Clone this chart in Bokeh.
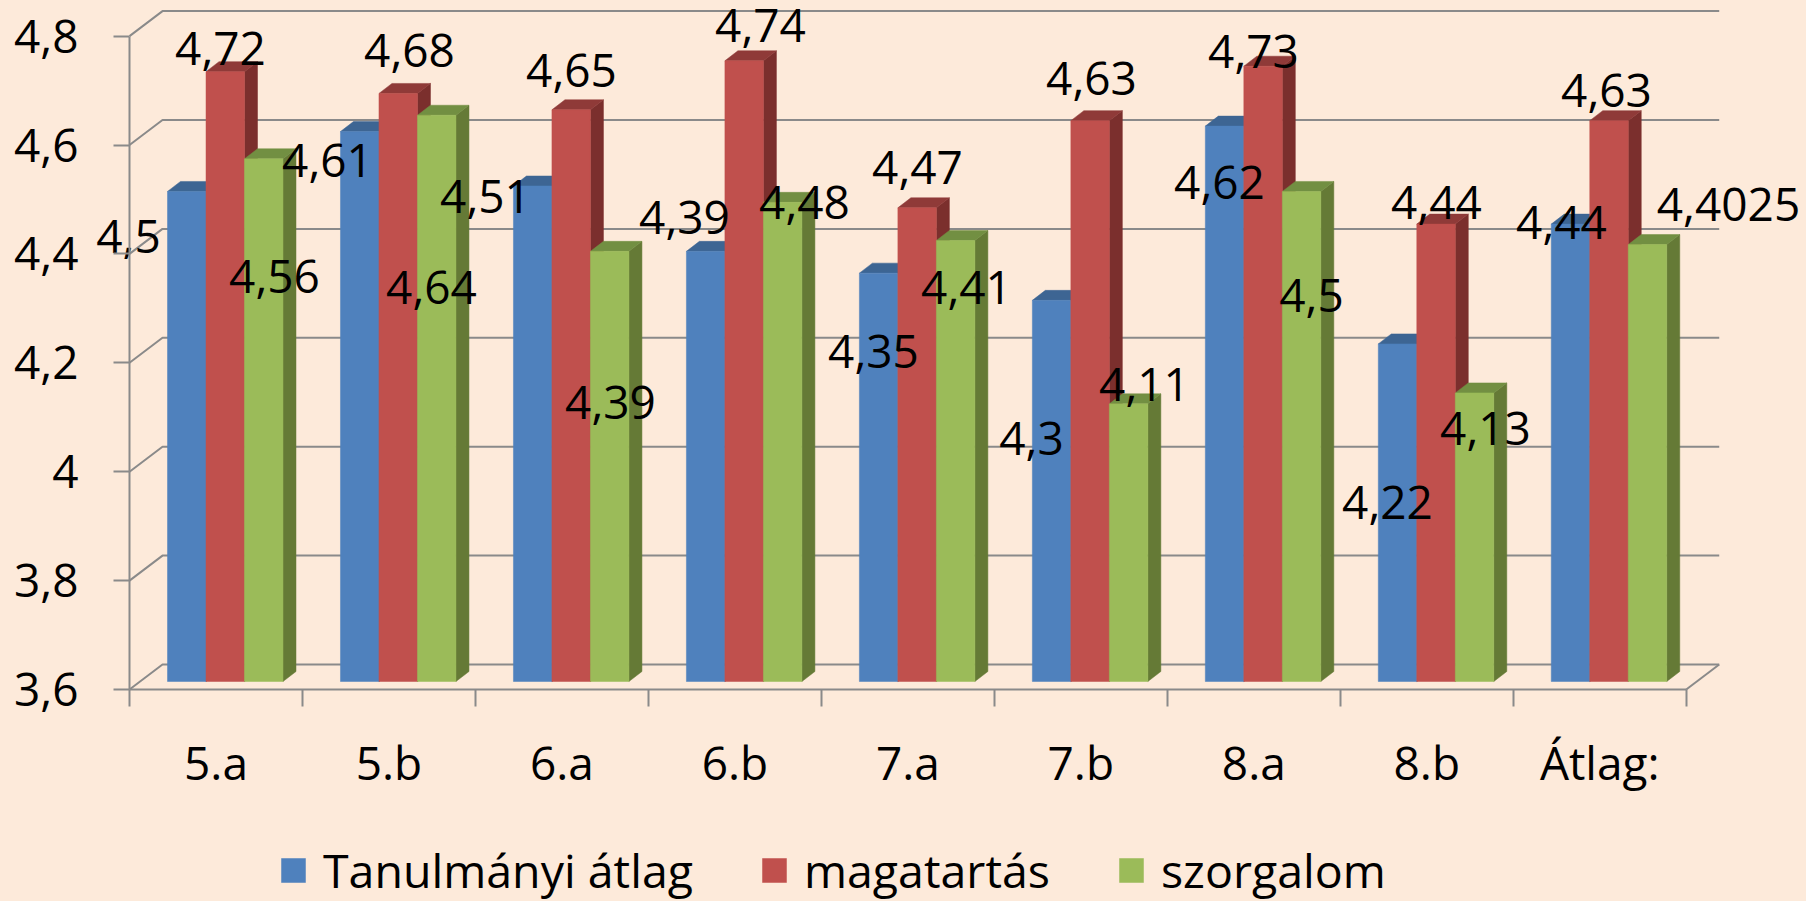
from bokeh.embed import file_html
from bokeh.resources import INLINE
from bokeh.plotting import figure
from bokeh.models import (ColumnDataSource, FixedTicker, GlobalInlineStyleSheet, Legend,
                          LegendItem, LinearAxis)
from bokeh.core.properties import value

categories = ["5.a", "5.b", "6.a", "6.b", "7.a", "7.b", "8.a", "8.b", "Átlag:"]
tanulmanyi = [4.5, 4.61, 4.51, 4.39, 4.35, 4.3, 4.62, 4.22, 4.44]
magatartas = [4.72, 4.68, 4.65, 4.74, 4.47, 4.63, 4.73, 4.44, 4.63]
szorgalom = [4.56, 4.64, 4.39, 4.48, 4.41, 4.11, 4.5, 4.13, 4.4025]
y_ticks = [3.6, 3.8, 4.0, 4.2, 4.4, 4.6, 4.8]
y_tick_labels = ["3,6", "3,8", "4", "4,2", "4,4", "4,6", "4,8"]

# label centres as they sit in the picture (page px)
blue_lab_x = [128, 327, 485, 684, 873, 1031, 1219, 1387, 1561]
blue_lab_y = [236, 160, 196, 217, 351, 438, 182, 502, 222]
red_lab_x = [220, 409, 571, 760, 917, 1091, 1253, 1436, 1606]
red_lab_y = [48, 50, 70, 25, 167, 78, 51, 202, 90]
green_lab_x = [274, 431, 610, 804, 966, 1144, 1311, 1485, 1728]
green_lab_y = [276, 287, 402, 202, 287, 384, 295, 428, 204]

W, H = 1806, 901
X0, UX = 129.0, 172.97      # page px of category 0, px per category
Y0, UY = 689.0, 544.5       # page px of value 3.6, px per value unit
V0 = 3.6
DX, DY = 33 / UX, 25 / UY   # back wall shift
BX, BY = 13 / UX, 10 / UY   # bar depth
B_OFF, B_W, B_Z = 38 / UX, 38.5 / UX, 8 / UY
AXC, BG = "#8a8a8a", "#fdeada"
FONT, FS = "Open Sans", "46px"

p = figure(width=W, height=H, output_backend="svg", toolbar_location=None,
           x_range=(-X0 / UX, (W - X0) / UX),
           y_range=(V0 - (H - Y0) / UY, V0 + Y0 / UY),
           min_border=0, x_axis_type=None, y_axis_type=None,
           background_fill_color=BG, border_fill_color=BG, outline_line_color=None)
p.stylesheets = [GlobalInlineStyleSheet(css=f"html,body{{margin:0;padding:0;overflow:hidden;background:{BG};}}")]
p.grid.visible = False

n = len(categories)
# back wall grid + side wall diagonals
p.multi_line([[0, DX, n + DX] for _ in y_ticks], [[t, t + DY, t + DY] for t in y_ticks],
             line_color=AXC, line_width=2)
# floor right edge
p.line([n, n + DX], [V0, V0 + DY], line_color=AXC, line_width=2)

series = [
    ("Tanulmányi átlag", tanulmanyi, "#4f81bd", "#3d6593", "#3a5f8b", blue_lab_x, blue_lab_y),
    ("magatartás", magatartas, "#c0504d", "#8f3a38", "#7b2f2d", red_lab_x, red_lab_y),
    ("szorgalom", szorgalom, "#9bbb59", "#728f42", "#657a36", green_lab_x, green_lab_y),
]

# sides and tops first, in series order
for k, (_, vals, _, top, side, _, _) in enumerate(series):
    xs_side, ys_side, xs_top, ys_top = [], [], [], []
    for i, v in enumerate(vals):
        x0 = i + B_OFF + k * B_W
        x1 = x0 + B_W
        t = v + B_Z
        b = V0 + B_Z
        xs_side.append([x1, x1 + BX, x1 + BX, x1])
        ys_side.append([b, b + BY, t + BY, t])
        xs_top.append([x0, x1, x1 + BX, x0 + BX])
        ys_top.append([t, t, t + BY, t + BY])
    p.patches(xs_side, ys_side, fill_color=side, line_color=side, line_width=0.5)
    p.patches(xs_top, ys_top, fill_color=top, line_color=top, line_width=0.5)

# front faces
legend_items = []
for k, (name, vals, col, _, _, _, _) in enumerate(series):
    left = [i + B_OFF + k * B_W for i in range(n)]
    right = [x + B_W for x in left]
    r = p.quad(left=left, right=right, top=[v + B_Z for v in vals], bottom=V0 + B_Z,
               fill_color=col, line_color=col, line_width=0.5)
    legend_items.append(LegendItem(label=name, renderers=[r]))

# axes
yax = LinearAxis(ticker=FixedTicker(ticks=y_ticks), fixed_location=0, bounds=(V0, V0 + 1.2),
                 major_label_overrides=dict(zip(y_ticks, y_tick_labels)),
                 major_tick_out=16, major_tick_in=0, minor_tick_line_color=None,
                 major_tick_line_color=AXC, major_tick_line_width=2,
                 axis_line_color=AXC, axis_line_width=2,
                 major_label_standoff=35, major_label_text_font=FONT,
                 major_label_text_font_size=FS, major_label_text_color="black")
p.add_layout(yax, "left")

centres = [i + 0.5 for i in range(n)]
xax = LinearAxis(ticker=FixedTicker(ticks=centres, minor_ticks=list(range(n + 1))),
                 fixed_location=V0, bounds=(0, n),
                 major_label_overrides=dict(zip(centres, categories)),
                 major_tick_out=0, major_tick_in=0, major_tick_line_color=None,
                 minor_tick_out=17, minor_tick_in=0, minor_tick_line_color=AXC, minor_tick_line_width=2,
                 axis_line_color=AXC, axis_line_width=2,
                 major_label_standoff=24, major_label_text_font=FONT,
                 major_label_text_font_size=FS, major_label_text_color="black")
p.add_layout(xax, "below")

# data labels
for k, (_, vals, _, _, _, lx, ly) in enumerate(series):
    xs = [i + B_OFF + (k + 0.5) * B_W for i in range(n)]
    ys = [v + B_Z for v in vals]
    src = ColumnDataSource(dict(
        x=xs, y=ys,
        t=[str(v).replace(".", ",") for v in vals],
        dx=[lx[i] - (X0 + xs[i] * UX) for i in range(n)],
        dy=[ly[i] - (Y0 - (ys[i] - V0) * UY) for i in range(n)],
    ))
    p.text("x", "y", text="t", source=src, x_offset="dx", y_offset="dy", text_align="center",
           text_baseline="alphabetic", text_font=value(FONT), text_font_size=FS, text_color="black")

legend = Legend(items=legend_items, orientation="horizontal", location=(278, -1),
                background_fill_alpha=0, border_line_color=None, padding=0, margin=0,
                spacing=66, label_standoff=15, glyph_width=30, glyph_height=30,
                label_text_font=FONT, label_text_font_size="46.5px", label_text_color="black")
p.add_layout(legend)

open("out.html", "w").write(file_html(p, INLINE))
